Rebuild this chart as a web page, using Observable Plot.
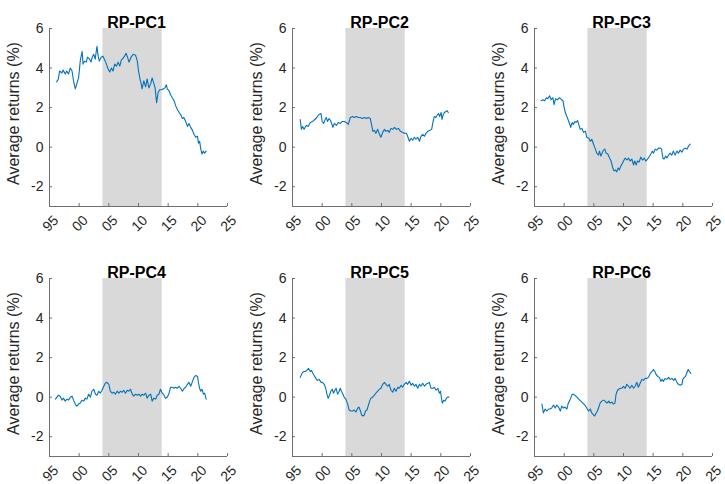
<!DOCTYPE html>
<html>
<head>
<meta charset="utf-8">
<script src="https://cdn.jsdelivr.net/npm/d3@7"></script>
<script src="https://cdn.jsdelivr.net/npm/@observablehq/plot@0.6"></script>
<style>
  html, body { margin: 0; padding: 0; background: #fff; }
  #chart { position: relative; width: 725px; height: 484px; overflow: hidden; }
  #chart svg { position: absolute; overflow: visible; }
</style>
</head>
<body>
<div id="chart"></div>
<script>
const titles = ["RP-PC1", "RP-PC2", "RP-PC3", "RP-PC4", "RP-PC5", "RP-PC6"];
const yLabel = "Average returns (%)";
const xTicks = [1995, 2000, 2005, 2010, 2015, 2020, 2025];
const xTickLabels = ["95", "00", "05", "10", "15", "20", "25"];
const yTicks = [-2, 0, 2, 4, 6];
const shadeStart = 2004;
const shadeEnd = 2014;

const pc1 = [[1996.2,3.3],[1996.5,3.45],[1996.7,3.85],[1997.1,3.75],[1997.3,3.9],[1997.65,3.7],[1997.9,3.85],[1998.2,3.7],[1998.5,4.0],[1998.8,3.85],[1999.05,3.35],[1999.35,2.95],[1999.6,3.2],[1999.9,3.5],[2000.2,4.4],[2000.5,4.85],[2000.65,4.2],[2000.9,4.35],[2001.2,4.3],[2001.4,4.55],[2001.75,4.45],[2002.0,4.3],[2002.2,4.55],[2002.45,4.7],[2002.7,4.45],[2003.0,5.1],[2003.2,4.6],[2003.4,4.35],[2003.7,4.55],[2004.0,4.6],[2004.25,4.45],[2004.6,4.2],[2004.8,4.0],[2005.15,3.8],[2005.45,4.0],[2005.7,3.85],[2006.0,4.2],[2006.3,4.1],[2006.55,4.3],[2006.85,4.1],[2007.1,4.4],[2007.4,4.5],[2007.65,4.6],[2007.9,4.75],[2008.15,4.55],[2008.4,4.3],[2008.75,4.55],[2009.1,4.7],[2009.5,4.65],[2009.8,4.35],[2010.0,3.85],[2010.25,3.45],[2010.45,3.2],[2010.6,2.95],[2010.9,3.35],[2011.2,3.05],[2011.45,3.45],[2011.75,3.0],[2012.05,3.2],[2012.3,3.5],[2012.6,3.2],[2012.8,3.0],[2013.05,2.25],[2013.3,2.75],[2013.55,2.9],[2013.9,2.9],[2014.2,2.95],[2014.45,3.0],[2014.7,3.15],[2014.85,2.95],[2015.15,2.85],[2015.4,2.65],[2015.7,2.5],[2016.0,2.35],[2016.25,2.1],[2016.55,1.9],[2016.85,1.75],[2017.1,1.65],[2017.4,1.45],[2017.65,1.5],[2017.95,1.3],[2018.25,1.05],[2018.5,1.2],[2018.8,1.0],[2019.1,0.85],[2019.35,0.65],[2019.65,0.5],[2019.95,0.55],[2020.1,0.2],[2020.3,0.3],[2020.5,-0.1],[2020.7,-0.35],[2020.9,-0.2],[2021.15,-0.3],[2021.4,-0.2]];

const pc2 = [[1996.3,1.4],[1996.5,0.9],[1996.7,1.05],[1996.95,0.9],[1997.3,1.1],[1997.65,1.05],[1998.0,1.25],[1998.4,1.3],[1998.75,1.4],[1999.1,1.5],[1999.45,1.65],[1999.8,1.7],[2000.0,1.3],[2000.25,1.2],[2000.5,1.4],[2000.7,1.5],[2000.9,1.3],[2001.15,1.45],[2001.4,1.35],[2001.6,1.2],[2001.8,1.0],[2002.05,1.2],[2002.4,1.1],[2002.7,1.25],[2003.05,1.2],[2003.4,1.3],[2003.7,1.3],[2004.05,1.25],[2004.4,1.15],[2004.75,1.5],[2005.1,1.55],[2005.4,1.5],[2005.75,1.55],[2006.1,1.5],[2006.4,1.5],[2006.75,1.45],[2007.1,1.5],[2007.45,1.45],[2007.75,1.5],[2008.1,1.45],[2008.35,1.1],[2008.55,0.8],[2008.8,0.85],[2009.05,0.7],[2009.35,0.9],[2009.65,0.65],[2009.9,0.5],[2010.2,0.75],[2010.5,0.9],[2010.75,0.8],[2011.05,0.85],[2011.3,0.75],[2011.6,0.95],[2011.9,0.9],[2012.2,1.0],[2012.5,0.9],[2012.85,0.95],[2013.2,0.8],[2013.5,0.75],[2013.85,0.7],[2014.2,0.7],[2014.4,0.55],[2014.7,0.3],[2015.0,0.45],[2015.25,0.35],[2015.55,0.5],[2015.8,0.4],[2016.1,0.5],[2016.4,0.3],[2016.65,0.55],[2016.95,0.65],[2017.25,0.55],[2017.5,0.7],[2017.8,0.8],[2018.15,0.85],[2018.45,0.9],[2018.7,1.3],[2018.9,1.55],[2019.15,1.5],[2019.35,1.6],[2019.6,1.7],[2019.8,1.55],[2020.05,1.75],[2020.2,1.4],[2020.4,1.65],[2020.6,1.75],[2020.85,1.8],[2021.05,1.85],[2021.25,1.75]];

const pc3 = [[1996.1,2.35],[1996.4,2.4],[1996.7,2.35],[1997.0,2.5],[1997.25,2.45],[1997.55,2.6],[1997.8,2.4],[1998.1,2.5],[1998.3,2.15],[1998.55,2.45],[1998.9,2.4],[1999.2,2.5],[1999.55,2.4],[1999.8,2.35],[2000.0,2.0],[2000.2,1.75],[2000.45,1.55],[2000.65,1.4],[2000.9,1.2],[2001.1,1.0],[2001.35,1.25],[2001.55,1.15],[2001.8,1.3],[2002.0,1.25],[2002.25,1.35],[2002.45,1.15],[2002.7,0.9],[2003.0,0.95],[2003.25,0.75],[2003.6,0.8],[2003.8,0.5],[2004.15,0.45],[2004.4,0.3],[2004.65,0.4],[2004.95,0.15],[2005.2,-0.05],[2005.5,-0.3],[2005.8,-0.4],[2005.95,-0.2],[2006.2,-0.45],[2006.4,-0.3],[2006.6,-0.15],[2006.85,-0.1],[2007.05,-0.3],[2007.35,-0.35],[2007.65,-0.55],[2007.9,-0.7],[2008.2,-1.05],[2008.4,-1.2],[2008.65,-1.15],[2008.85,-1.25],[2009.1,-1.05],[2009.3,-1.15],[2009.55,-0.95],[2009.75,-0.85],[2010.0,-0.7],[2010.3,-0.55],[2010.55,-0.65],[2010.85,-0.55],[2011.1,-0.7],[2011.4,-0.6],[2011.7,-0.9],[2011.9,-0.7],[2012.15,-0.9],[2012.35,-0.7],[2012.65,-0.75],[2012.9,-0.5],[2013.2,-0.65],[2013.5,-0.55],[2013.75,-0.7],[2014.05,-0.6],[2014.3,-0.5],[2014.6,-0.35],[2014.85,-0.2],[2015.05,-0.3],[2015.35,-0.1],[2015.6,-0.15],[2015.9,-0.05],[2016.2,-0.05],[2016.4,-0.1],[2016.65,-0.55],[2016.85,-0.6],[2017.1,-0.45],[2017.3,-0.55],[2017.6,-0.4],[2017.85,-0.3],[2018.15,-0.4],[2018.4,-0.2],[2018.7,-0.4],[2019.0,-0.2],[2019.25,-0.3],[2019.55,-0.15],[2019.85,-0.25],[2020.1,-0.1],[2020.4,-0.05],[2020.7,-0.1],[2020.95,0.05],[2021.25,0.15]];

const pc4 = [[1996.0,-0.1],[1996.25,0.0],[1996.5,0.1],[1996.8,0.05],[1997.1,-0.15],[1997.35,-0.05],[1997.65,-0.2],[1997.95,-0.1],[1998.2,-0.15],[1998.5,0.0],[1998.8,0.05],[1999.05,-0.15],[1999.35,-0.35],[1999.6,-0.45],[1999.9,-0.35],[2000.2,-0.3],[2000.45,-0.15],[2000.75,-0.2],[2001.05,-0.05],[2001.3,-0.1],[2001.6,0.15],[2001.9,0.0],[2002.15,0.3],[2002.45,0.4],[2002.75,0.15],[2003.0,0.1],[2003.3,0.3],[2003.55,0.2],[2003.85,0.35],[2004.15,0.55],[2004.4,0.7],[2004.7,0.75],[2005.0,0.65],[2005.25,0.3],[2005.55,0.2],[2005.85,0.25],[2006.1,0.15],[2006.4,0.3],[2006.7,0.2],[2006.95,0.3],[2007.25,0.25],[2007.5,0.35],[2007.8,0.2],[2008.1,0.35],[2008.35,0.3],[2008.65,0.4],[2008.95,0.15],[2009.2,0.05],[2009.5,0.15],[2009.8,0.1],[2010.05,0.15],[2010.35,0.05],[2010.6,0.15],[2010.9,0.1],[2011.2,0.2],[2011.45,-0.05],[2011.75,0.1],[2012.05,0.15],[2012.3,-0.2],[2012.6,-0.05],[2012.9,-0.1],[2013.15,0.1],[2013.45,0.15],[2013.7,0.4],[2014.0,0.2],[2014.3,0.1],[2014.55,-0.05],[2014.85,0.0],[2015.15,0.2],[2015.4,0.5],[2015.7,0.5],[2016.0,0.45],[2016.25,0.5],[2016.55,0.45],[2016.85,0.55],[2017.1,0.45],[2017.4,0.3],[2017.7,0.45],[2017.95,0.5],[2018.25,0.65],[2018.5,0.75],[2018.8,0.55],[2019.1,0.8],[2019.35,1.0],[2019.65,1.1],[2019.95,1.05],[2020.1,0.75],[2020.3,0.45],[2020.5,0.3],[2020.7,0.4],[2020.95,0.15],[2021.15,0.2],[2021.4,-0.1]];

const pc5 = [[1996.3,1.0],[1996.6,1.2],[1996.85,1.3],[1997.15,1.3],[1997.4,1.35],[1997.7,1.45],[1998.0,1.3],[1998.2,1.35],[1998.45,1.2],[1998.65,1.1],[1998.95,0.95],[1999.2,0.85],[1999.5,0.9],[1999.8,0.75],[2000.05,0.75],[2000.35,0.65],[2000.6,0.45],[2000.8,0.15],[2001.0,-0.05],[2001.25,0.1],[2001.45,0.3],[2001.7,0.4],[2001.9,0.2],[2002.15,0.35],[2002.35,0.45],[2002.6,0.15],[2002.8,0.25],[2003.05,0.45],[2003.25,0.3],[2003.5,0.15],[2003.7,0.0],[2004.0,-0.1],[2004.3,-0.35],[2004.55,-0.65],[2004.85,-0.7],[2005.15,-0.7],[2005.4,-0.65],[2005.7,-0.75],[2006.0,-0.55],[2006.2,-0.5],[2006.45,-0.7],[2006.65,-0.9],[2006.9,-0.95],[2007.1,-0.9],[2007.3,-0.7],[2007.55,-0.65],[2007.8,-0.4],[2008.0,-0.2],[2008.2,-0.05],[2008.5,0.0],[2008.8,0.1],[2009.05,0.2],[2009.35,0.3],[2009.65,0.4],[2009.9,0.45],[2010.2,0.65],[2010.5,0.75],[2010.75,0.65],[2011.05,0.55],[2011.3,0.65],[2011.6,0.35],[2011.9,0.25],[2012.15,0.45],[2012.45,0.3],[2012.75,0.5],[2013.0,0.45],[2013.3,0.6],[2013.55,0.5],[2013.85,0.65],[2014.15,0.75],[2014.4,0.65],[2014.7,0.8],[2015.0,0.6],[2015.25,0.7],[2015.55,0.55],[2015.8,0.65],[2016.1,0.45],[2016.4,0.65],[2016.65,0.55],[2016.95,0.7],[2017.25,0.55],[2017.5,0.65],[2017.8,0.7],[2018.05,0.75],[2018.35,0.45],[2018.65,0.45],[2018.9,0.5],[2019.2,0.35],[2019.5,0.45],[2019.75,0.2],[2019.95,0.3],[2020.1,-0.05],[2020.25,-0.3],[2020.5,-0.15],[2020.7,-0.2],[2020.95,-0.05],[2021.15,0.0],[2021.35,0.0]];

const pc6 = [[1996.25,-0.35],[1996.5,-0.8],[1996.8,-0.6],[1997.1,-0.7],[1997.35,-0.6],[1997.65,-0.6],[1997.9,-0.55],[1998.2,-0.4],[1998.5,-0.55],[1998.75,-0.4],[1999.05,-0.5],[1999.35,-0.7],[1999.6,-0.45],[1999.9,-0.55],[2000.15,-0.5],[2000.45,-0.6],[2000.7,-0.3],[2000.9,-0.2],[2001.1,-0.05],[2001.35,0.15],[2001.55,0.15],[2001.8,0.1],[2002.15,0.0],[2002.45,-0.1],[2002.8,-0.2],[2003.15,-0.3],[2003.5,-0.4],[2003.8,-0.55],[2004.1,-0.7],[2004.4,-0.6],[2004.65,-0.8],[2004.95,-0.9],[2005.15,-0.95],[2005.4,-0.8],[2005.6,-0.7],[2005.85,-0.5],[2006.05,-0.3],[2006.35,-0.2],[2006.65,-0.15],[2006.9,-0.2],[2007.2,-0.3],[2007.5,-0.2],[2007.75,-0.3],[2008.05,-0.25],[2008.3,-0.35],[2008.55,-0.3],[2008.75,0.15],[2009.0,0.35],[2009.2,0.4],[2009.45,0.45],[2009.7,0.45],[2010.0,0.55],[2010.3,0.45],[2010.55,0.65],[2010.85,0.55],[2011.1,0.45],[2011.4,0.6],[2011.7,0.45],[2011.95,0.55],[2012.25,0.75],[2012.5,0.5],[2012.8,0.7],[2013.1,0.9],[2013.35,0.85],[2013.65,0.95],[2013.95,0.95],[2014.2,1.0],[2014.5,1.2],[2014.8,1.3],[2015.05,1.4],[2015.3,1.3],[2015.5,1.15],[2015.75,1.05],[2016.05,1.0],[2016.3,0.8],[2016.5,0.9],[2016.75,0.8],[2017.0,0.95],[2017.3,0.9],[2017.6,1.0],[2017.85,0.9],[2018.15,0.95],[2018.45,0.85],[2018.7,0.95],[2019.0,0.75],[2019.25,0.65],[2019.55,0.6],[2019.85,0.65],[2020.0,0.9],[2020.25,1.0],[2020.45,1.05],[2020.7,1.25],[2020.9,1.4],[2021.1,1.3],[2021.35,1.2]];

const series = [pc1, pc2, pc3, pc4, pc5, pc6];
const panelLeft = [0, 243, 485];
const panelTop = [0, 250];

const font = "'Liberation Sans', Arial, Helvetica, sans-serif";
const lineColor = "#0072BD";
const shadeColor = "#d9d9d9";
const axisColor = "#6e6e6e";
const textColor = "#262626";

const chart = document.getElementById("chart");

series.forEach((data, i) => {
  const svg = Plot.plot({
    width: 240,
    height: 250,
    marginLeft: 49,
    marginRight: 13,
    marginTop: 28,
    marginBottom: 44,
    x: {domain: [1995, 2025], axis: null},
    y: {domain: [-3, 6], axis: null},
    style: {fontFamily: font, background: "transparent", overflow: "visible"},
    marks: [
      Plot.rect([{a: shadeStart, b: shadeEnd}], {x1: "a", x2: "b", y1: -3, y2: 6, fill: shadeColor}),
      Plot.line(data, {x: d => d[0], y: d => d[1], stroke: lineColor, strokeWidth: 1.1}),
      Plot.ruleY([-3], {stroke: axisColor, strokeWidth: 1}),
      Plot.ruleX([1995], {stroke: axisColor, strokeWidth: 1}),
      Plot.ruleX(xTicks, {x: d => d, y1: -3, y2: -2.85, stroke: axisColor, strokeWidth: 1}),
      Plot.ruleY(yTicks, {y: d => d, x1: 1995, x2: 1995.5, stroke: axisColor, strokeWidth: 1}),
      Plot.text(yTicks, {y: d => d, frameAnchor: "left", textAnchor: "end", dx: -6, text: d => String(d), fontSize: 14, fill: textColor}),
      Plot.text(xTicks, {x: d => d, frameAnchor: "bottom", text: (d, j) => xTickLabels[j], rotate: -45, dx: 1, dy: 17, fontSize: 14, fill: textColor, textAnchor: "middle", lineAnchor: "middle"}),
      Plot.text([titles[i]], {frameAnchor: "top", text: d => d, dx: -2, dy: -11.5, fontSize: 16, fontWeight: "bold", fill: "#000"}),
      Plot.text([yLabel], {frameAnchor: "left", text: d => d, rotate: -90, dx: -36, dy: -4, textAnchor: "middle", lineAnchor: "middle", fontSize: 16, fill: textColor})
    ]
  });
  svg.style.left = panelLeft[i % 3] + "px";
  svg.style.top = panelTop[Math.floor(i / 3)] + "px";
  chart.appendChild(svg);
});
</script>
</body>
</html>
